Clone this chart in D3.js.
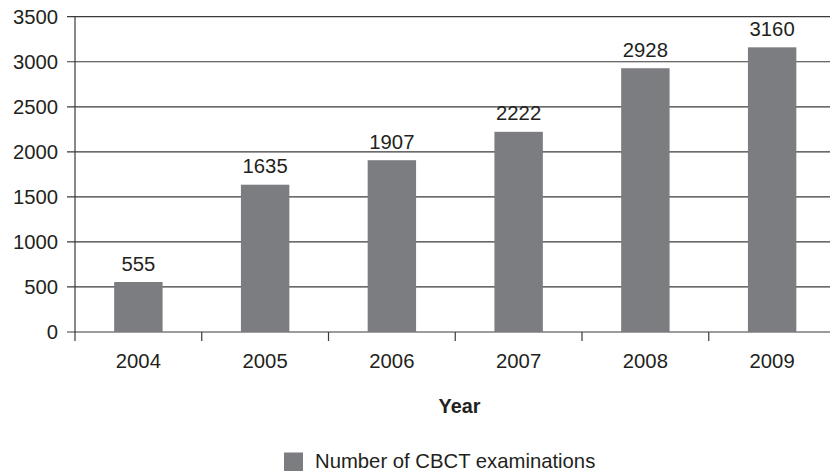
<!DOCTYPE html>
<html><head><meta charset="utf-8">
<script src="https://cdn.jsdelivr.net/npm/d3@7"></script>
<style>body{margin:0;background:#fff}svg{display:block}text{font-family:"Liberation Sans",Arial,sans-serif;fill:#231f20}</style>
</head><body>
<svg id="c" width="830" height="472"></svg>
<script>
const years = ["2004","2005","2006","2007","2008","2009"];
const counts = [555,1635,1907,2222,2928,3160];
const yTicks = [0,500,1000,1500,2000,2500,3000,3500];
const seriesName = "Number of CBCT examinations";
const xTitle = "Year";

(function(){
const svg = d3.select("#c");
const pLeft = 75, pRight = 835.5, pTop = 16.7, pBottom = 332;
const barColor = "#7c7d81", lineColor = "#3a3a3a";
const fs = 20.3;

const x = d3.scaleBand().domain(years).range([pLeft, pRight]).paddingInner(0.618).paddingOuter(0.309);
const y = d3.scaleLinear().domain([0,3500]).range([pBottom, pTop]);

svg.append("g").selectAll("line").data(yTicks).join("line")
  .attr("x1", pLeft - 8).attr("x2", 830)
  .attr("y1", d => y(d)).attr("y2", d => y(d))
  .attr("stroke", lineColor).attr("stroke-width", 1.2);

svg.append("g").selectAll("text").data(yTicks).join("text")
  .attr("x", 58).attr("y", d => y(d)).attr("dy", "0.36em")
  .attr("text-anchor", "end").attr("font-size", fs).text(d => d);

svg.append("g").selectAll("rect").data(years).join("rect")
  .attr("x", d => x(d)).attr("width", x.bandwidth())
  .attr("y", (d,i) => y(counts[i])).attr("height", (d,i) => y(0) - y(counts[i]))
  .attr("fill", barColor);

svg.append("g").selectAll("text").data(years).join("text")
  .attr("x", d => x(d) + x.bandwidth()/2).attr("y", (d,i) => y(counts[i]) - 11.5)
  .attr("text-anchor", "middle").attr("font-size", fs).text((d,i) => counts[i]);

svg.append("line").attr("x1", pLeft).attr("x2", pLeft).attr("y1", pTop).attr("y2", pBottom + 9)
  .attr("stroke", lineColor).attr("stroke-width", 1.2);
const step = x.step();
const bounds = d3.range(1, years.length).map(i => pLeft + i*step);
svg.append("g").selectAll("line").data(bounds).join("line")
  .attr("x1", d => d).attr("x2", d => d).attr("y1", pBottom).attr("y2", pBottom + 9)
  .attr("stroke", lineColor).attr("stroke-width", 1.2);

svg.append("g").selectAll("text").data(years).join("text")
  .attr("x", d => x(d) + x.bandwidth()/2).attr("y", 368.3)
  .attr("text-anchor", "middle").attr("font-size", fs).text(d => d);

svg.append("text").attr("x", 459.5).attr("y", 413).attr("text-anchor", "middle")
  .attr("font-size", 19.8).attr("font-weight", "bold").text(xTitle);

svg.append("rect").attr("x", 284).attr("y", 452.5).attr("width", 19).attr("height", 18.5).attr("fill", barColor);
svg.append("text").attr("x", 315).attr("y", 467.5).attr("font-size", fs).text(seriesName);
})();
</script>
</body></html>
